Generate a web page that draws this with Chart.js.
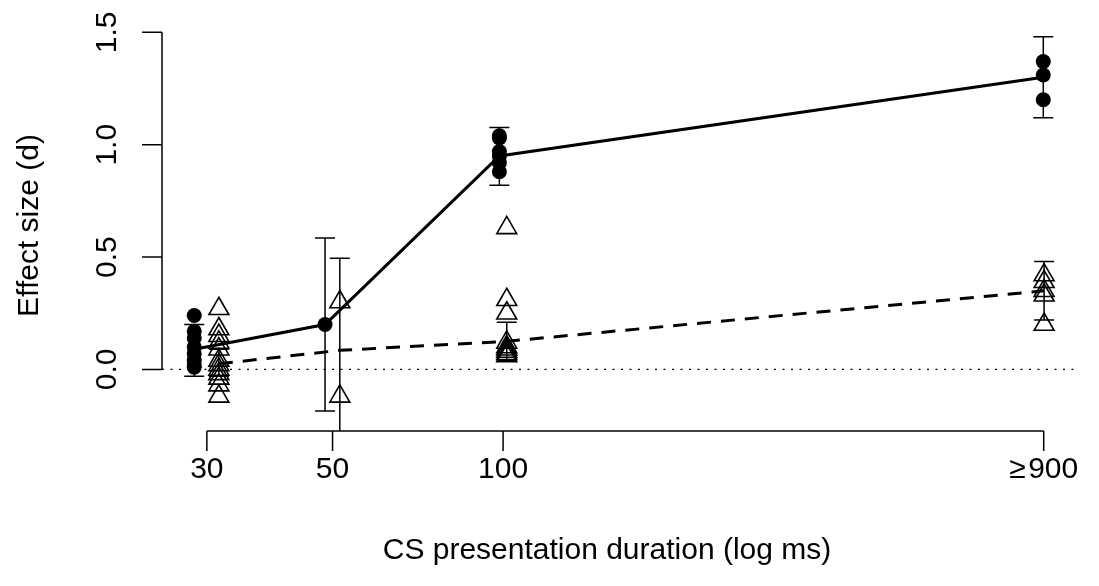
<!DOCTYPE html>
<html lang="en">

<head>
  <meta charset="UTF-8" />
  <title>Effect size by CS presentation duration</title>
  <script src="https://cdn.jsdelivr.net/npm/chart.js"></script>
  <style>
    body {
      margin: 0;
      background: #fff;
    }

    canvas {
      display: block;
    }
  </style>
</head>

<body>
  <canvas id="effectChart" width="1099" height="586"></canvas>
  <script>
    // durations and tick labels (log ms)
    const durations = [30, 50, 100, 900];
    const xTickLabels = ['30', '50', '100', '\u2265\u200A900'];
    const yTicks = [0, 0.5, 1, 1.5];
    const yTickLabels = ['0.0', '0.5', '1.0', '1.5'];

    // small horizontal jitter so the two groups do not overlap
    const circleX = [28.5, 48.5, 98.5, 898.5];
    const triangleX = [31.5, 51.5, 101.5, 901.5];

    // filled circles: individual effect sizes per duration
    const circleValues = [
      [0.24, 0.17, 0.14, 0.10, 0.07, 0.04, 0.02, 0.01],
      [0.20],
      [1.04, 1.03, 0.97, 0.95, 0.92, 0.88],
      [1.37, 1.31, 1.20]
    ];
    const circleMean = [0.09, 0.20, 0.95, 1.30];
    const circleLow = [-0.03, -0.185, 0.82, 1.12];
    const circleHigh = [0.20, 0.585, 1.077, 1.48];

    // open triangles
    const triangleValues = [
      [0.27, 0.18, 0.15, 0.12, 0.09, 0.04, 0.02, 0.00, -0.02, -0.04, -0.07, -0.12],
      [0.30, -0.12],
      [0.63, 0.31, 0.25, 0.12, 0.10, 0.09, 0.08, 0.07, 0.06],
      [0.42, 0.39, 0.35, 0.33, 0.20]
    ];
    const triangleMean = [0.025, 0.085, 0.125, 0.35];
    const triangleLow = [-0.03, -0.32, 0.04, 0.22];
    const triangleHigh = [0.09, 0.495, 0.21, 0.48];

    const xTitle = 'CS presentation duration (log ms)';
    const yTitle = 'Effect size (d)';

    const toPoints = (xs, groups) => groups.flatMap((vals, i) => vals.map(v => ({ x: xs[i], y: v })));
    const toLine = (xs, ys) => ys.map((v, i) => ({ x: xs[i], y: v }));

    const FONT = '30px "Liberation Sans", Arial, sans-serif';

    // R風の軸・誤差棒・0の点線を描くプラグイン
    const rStyle = {
      id: 'rStyle',
      beforeDatasetsDraw(chart) {
        const { ctx, chartArea, scales } = chart;
        const y0 = scales.y.getPixelForValue(0);
        ctx.save();
        ctx.strokeStyle = '#000';
        ctx.lineWidth = 1.3;
        ctx.setLineDash([2, 6.5]);
        ctx.beginPath();
        ctx.moveTo(chartArea.left, y0);
        ctx.lineTo(chartArea.right, y0);
        ctx.stroke();
        ctx.restore();
      },
      afterDatasetsDraw(chart) {
        const { ctx, chartArea, scales } = chart;
        ctx.save();
        ctx.beginPath();
        ctx.rect(chartArea.left, chartArea.top, chartArea.right - chartArea.left, chartArea.bottom - chartArea.top);
        ctx.clip();
        ctx.strokeStyle = '#000';
        ctx.lineWidth = 1.5;
        const bars = (xs, lo, hi) => {
          xs.forEach((xv, i) => {
            const x = scales.x.getPixelForValue(xv);
            const a = scales.y.getPixelForValue(lo[i]);
            const b = scales.y.getPixelForValue(hi[i]);
            ctx.beginPath();
            ctx.moveTo(x, a); ctx.lineTo(x, b);
            ctx.moveTo(x - 10, a); ctx.lineTo(x + 10, a);
            ctx.moveTo(x - 10, b); ctx.lineTo(x + 10, b);
            ctx.stroke();
          });
        };
        bars(circleX, circleLow, circleHigh);
        bars(triangleX, triangleLow, triangleHigh);
        ctx.restore();
      },
      afterDraw(chart) {
        const { ctx, chartArea, scales } = chart;
        const xs = scales.x, ys = scales.y;
        ctx.save();
        ctx.strokeStyle = '#000';
        ctx.fillStyle = '#000';
        ctx.lineWidth = 1.5;
        ctx.font = FONT;

        // x axis
        const bottom = chartArea.bottom;
        ctx.beginPath();
        ctx.moveTo(xs.getPixelForValue(durations[0]), bottom);
        ctx.lineTo(xs.getPixelForValue(durations[durations.length - 1]), bottom);
        durations.forEach(d => {
          const x = xs.getPixelForValue(d);
          ctx.moveTo(x, bottom);
          ctx.lineTo(x, bottom + 20);
        });
        ctx.stroke();
        ctx.textAlign = 'center';
        ctx.textBaseline = 'alphabetic';
        durations.forEach((d, i) => {
          ctx.fillText(xTickLabels[i], xs.getPixelForValue(d), bottom + 47);
        });
        ctx.fillText(xTitle, (chartArea.left + chartArea.right) / 2 - 11, bottom + 128);

        // y axis
        const left = chartArea.left;
        ctx.beginPath();
        ctx.moveTo(left, ys.getPixelForValue(yTicks[0]));
        ctx.lineTo(left, ys.getPixelForValue(yTicks[yTicks.length - 1]));
        yTicks.forEach(t => {
          const y = ys.getPixelForValue(t);
          ctx.moveTo(left, y);
          ctx.lineTo(left - 20, y);
        });
        ctx.stroke();
        yTicks.forEach((t, i) => {
          ctx.save();
          ctx.translate(left - 46, ys.getPixelForValue(t));
          ctx.rotate(-Math.PI / 2);
          ctx.fillText(yTickLabels[i], 0, 0);
          ctx.restore();
        });
        ctx.save();
        ctx.translate(38, (chartArea.top + chartArea.bottom) / 2);
        ctx.rotate(-Math.PI / 2);
        ctx.fillText(yTitle, 0, 0);
        ctx.restore();
        ctx.restore();
      }
    };

    const chart = new Chart(document.getElementById('effectChart'), {
      type: 'scatter',
      data: {
        datasets: [
          {
            data: toLine(circleX, circleMean),
            showLine: true,
            borderColor: '#000',
            borderWidth: 3,
            pointRadius: 0
          },
          {
            data: toLine(triangleX, triangleMean),
            showLine: true,
            borderColor: '#000',
            borderWidth: 3,
            borderDash: [14, 10],
            pointRadius: 0
          },
          {
            data: toPoints(circleX, circleValues),
            pointStyle: 'circle',
            pointRadius: 7.5,
            backgroundColor: '#000',
            borderColor: '#000',
            borderWidth: 0
          },
          {
            data: toPoints(triangleX, triangleValues),
            pointStyle: 'triangle',
            pointRadius: 11.5,
            backgroundColor: 'rgba(0,0,0,0)',
            borderColor: '#000',
            borderWidth: 1.6
          }
        ]
      },
      options: {
        responsive: false,
        animation: false,
        events: [],
        layout: {
          padding: { left: 162, right: 25, top: 20, bottom: 155 }
        },
        scales: {
          x: { type: 'logarithmic', min: 25, max: 1018, display: false },
          y: { type: 'linear', min: -0.274, max: 1.555, display: false }
        },
        plugins: {
          legend: { display: false },
          tooltip: { enabled: false }
        }
      },
      plugins: [rStyle]
    });
  </script>
</body>

</html>
